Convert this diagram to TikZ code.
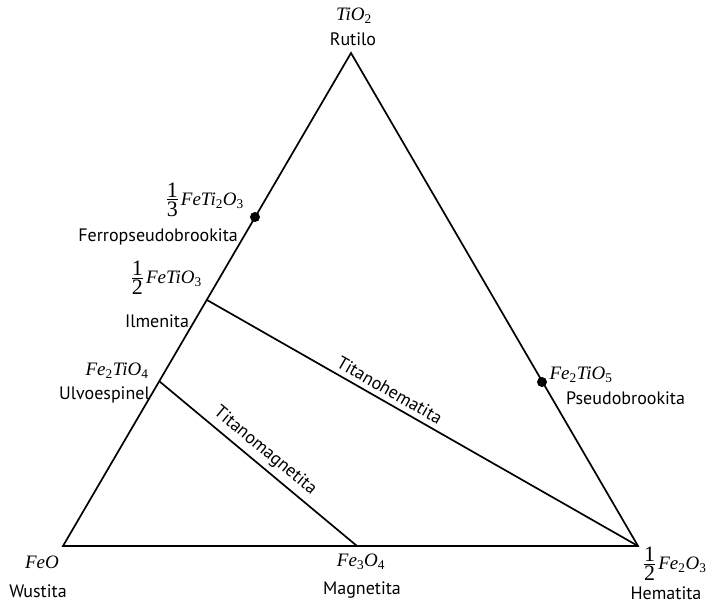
\documentclass[tikz,border=0pt]{standalone}
\usepackage{fontspec}
\setsansfont{PT Sans}
\newfontfamily\formfont{Liberation Serif}
\usetikzlibrary{positioning}
\tikzset{
  side/.style={line width=1.7pt, black, line join=miter},
  tie/.style={line width=1.7pt, black},
  dot/.style={circle, fill=black, inner sep=0pt, minimum size=10pt},
  phase/.style={font=\sffamily\fontsize{18}{20}\selectfont, inner sep=1pt},
  formula/.style={font=\formfont\itshape\fontsize{19}{21}\selectfont, inner sep=1pt},
  serie/.style={font=\sffamily\fontsize{18}{20}\selectfont, sloped, above, inner sep=5pt}
}
\newcommand{\sub}[1]{\textsubscript{\upshape#1}}
\newcommand{\frc}[2]{{\fontsize{22}{22}\selectfont$\vcenter{\hbox{\shortstack{\upshape#1\\[-1pt]\rule{11pt}{0.8pt}\\[-1pt]\upshape#2}}}$}\,}

\begin{document}
\begin{tikzpicture}[x=1pt, y=-1pt]
  \useasboundingbox[fill=white] (0,0) rectangle (720,604);

  % corners of the ternary
  \coordinate (tio2) at (351,53);
  \coordinate (feo) at (63,546);
  \coordinate (hem) at (638,546);
  % points on the sides
  \coordinate (feti2o5) at (255,217);
  \coordinate (fetio3) at (207,300);
  \coordinate (fe2tio4) at (159,381);
  \coordinate (fe2tio5) at (542,382);
  \coordinate (fe3o4) at (357,546);

  \draw[side] (feo) -- (tio2) -- (hem) -- cycle;
  \draw[tie] (fetio3) -- node[serie, pos=0.41] {Titanohematita} (hem);
  \draw[tie] (fe2tio4) -- node[serie, pos=0.49] {Titanomagnetita} (fe3o4);
  \node[dot] (d1) at (feti2o5) {};
  \node[dot] (d2) at (fe2tio5) {};

  \node[formula] (ttio2) at (354,16) {TiO\sub{2}};
  \node[phase] (rut) at (353,39) {Rutilo};

  \node[formula, anchor=east] (tfp) at (245,200) {\frc{1}{3}FeTi\sub{2}O\sub{3}};
  \node[phase, anchor=east] (fp) at (239,237) {Ferropseudobrookita};

  \node[formula, anchor=east] (tilm) at (203,278) {\frc{1}{2}FeTiO\sub{3}};
  \node[phase] (ilm) at (157,321) {Ilmenita};

  \node[formula] (tulv) at (117,371) {Fe\sub{2}TiO\sub{4}};
  \node[phase, anchor=east] (ulv) at (151,395) {Ulvoespinel};

  \node[formula] (tpb) at (581,375) {Fe\sub{2}TiO\sub{5}};
  \node[phase, anchor=west] (pb) at (565,398) {Pseudobrookita};

  \node[formula] (tfeo) at (42,562) {FeO};
  \node[phase] (wus) at (38,591) {Wustita};

  \node[formula] (tmag) at (361,562) {Fe\sub{3}O\sub{4}};
  \node[phase] (mag) at (362,590) {Magnetita};

  \node[formula, anchor=west] (them) at (643,564) {\frc{1}{2}Fe\sub{2}O\sub{3}};
  \node[phase] (hm) at (666,593) {Hematita};
\end{tikzpicture}
\end{document}
